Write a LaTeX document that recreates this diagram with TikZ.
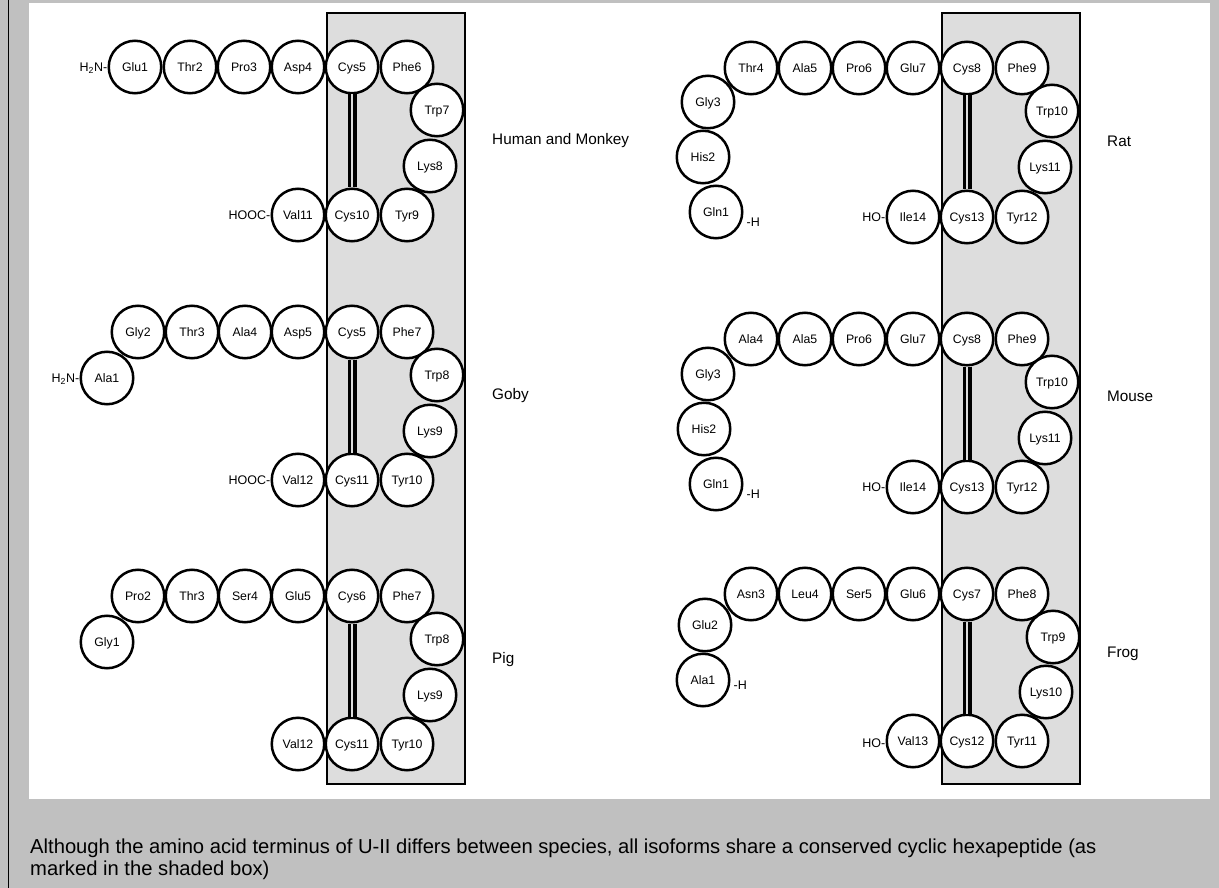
\documentclass[tikz,border=0pt]{standalone}
\usepackage{fontspec}
\setmainfont{Liberation Sans}
\definecolor{bggray}{HTML}{C0C0C0}
\definecolor{boxgray}{HTML}{DDDDDD}
\begin{document}
\begin{tikzpicture}[x=1pt,y=-1pt,
  res/.style={circle,draw=black,line width=2.5pt,fill=white,minimum size=52.5pt,inner sep=0pt,
    text height=8.8pt,text depth=0pt,font=\fontsize{12.3}{14}\selectfont},
  term/.style={inner sep=0pt,text height=8.8pt,text depth=0pt,font=\fontsize{12.5}{14}\selectfont},
  species/.style={anchor=west,inner sep=0pt,font=\fontsize{15.3}{18}\selectfont},
  captxt/.style={anchor=base west,inner sep=0pt,font=\fontsize{20.2}{22}\selectfont},
  shade/.style={draw=black,line width=2.5pt,fill=boxgray},
  ssbond/.style={line width=3.5pt,double=boxgray,double distance=2pt}]
\useasboundingbox (0,0) rectangle (1219,888);
\fill[bggray] (0,0) rectangle (1219,888);
\fill[white] (29,3) rectangle (1210,799);
\draw[line width=1.5pt] (8.5,0) -- (8.5,888);
% shaded boxes
\draw[shade] (327,13) rectangle (465,784);
\draw[shade] (942,13) rectangle (1080,784);

% ---------- Human and Monkey ----------
\node[res] (h1) at (135,67) {Glu1};
\node[res] (h2) at (190,67) {Thr2};
\node[res] (h3) at (244,67) {Pro3};
\node[res] (h4) at (298,67) {Asp4};
\node[res] (h5) at (352,67) {Cys5};
\node[res] (h6) at (407,67) {Phe6};
\node[res] (h7) at (437,110) {Trp7};
\node[res] (h8) at (430,166) {Lys8};
\node[res] (h9) at (407,215) {Tyr9};
\node[res] (h10) at (352,215) {Cys10};
\node[res] (h11) at (298,215) {Val11};
\draw[ssbond] (h5.south) -- (h10.north);
\node[term,anchor=east] (hN) at (h1.west) {H\textsubscript{2}N-};
\node[term,anchor=east] (hC) at (h11.west) {HOOC-};
\node[species] (hL) at (492,141) {Human and Monkey};

% ---------- Goby ----------
\node[res] (g1) at (107,378) {Ala1};
\node[res] (g2) at (138,332) {Gly2};
\node[res] (g3) at (192,332) {Thr3};
\node[res] (g4) at (245,332) {Ala4};
\node[res] (g5) at (298,332) {Asp5};
\node[res] (g6) at (352,332) {Cys5};
\node[res] (g7) at (407,332) {Phe7};
\node[res] (g8) at (437,375) {Trp8};
\node[res] (g9) at (430,431) {Lys9};
\node[res] (g10) at (407,480) {Tyr10};
\node[res] (g11) at (352,480) {Cys11};
\node[res] (g12) at (298,480) {Val12};
\draw[ssbond] (g6.south) -- (g11.north);
\node[term,anchor=east] (gN) at (g1.west) {H\textsubscript{2}N-};
\node[term,anchor=east] (gC) at (g12.west) {HOOC-};
\node[species] (gL) at (492,396) {Goby};

% ---------- Pig ----------
\node[res] (p1) at (107,642) {Gly1};
\node[res] (p2) at (138,596) {Pro2};
\node[res] (p3) at (192,596) {Thr3};
\node[res] (p4) at (245,596) {Ser4};
\node[res] (p5) at (298,596) {Glu5};
\node[res] (p6) at (352,596) {Cys6};
\node[res] (p7) at (407,596) {Phe7};
\node[res] (p8) at (437,639) {Trp8};
\node[res] (p9) at (430,695) {Lys9};
\node[res] (p10) at (407,744) {Tyr10};
\node[res] (p11) at (352,744) {Cys11};
\node[res] (p12) at (298,744) {Val12};
\draw[ssbond] (p6.south) -- (p11.north);
\node[species] (pL) at (492,660) {Pig};

% ---------- Rat ----------
\node[res] (r1) at (716,212) {Gln1};
\node[res] (r2) at (703,157) {His2};
\node[res] (r3) at (708,102) {Gly3};
\node[res] (r4) at (751,68) {Thr4};
\node[res] (r5) at (805,68) {Ala5};
\node[res] (r6) at (859,68) {Pro6};
\node[res] (r7) at (913,68) {Glu7};
\node[res] (r8) at (967,68) {Cys8};
\node[res] (r9) at (1022,68) {Phe9};
\node[res] (r10) at (1052,111) {Trp10};
\node[res] (r11) at (1045,167) {Lys11};
\node[res] (r12) at (1022,217) {Tyr12};
\node[res] (r13) at (967,217) {Cys13};
\node[res] (r14) at (913,217) {Ile14};
\draw[ssbond] (r8.south) -- (r13.north);
\node[term,anchor=west] (rN) at ([xshift=3pt,yshift=-10pt]r1.east) {-H};
\node[term,anchor=east] (rC) at (r14.west) {HO-};
\node[species] (rL) at (1107,141) {Rat};

% ---------- Mouse ----------
\node[res] (m1) at (716,484) {Gln1};
\node[res] (m2) at (704,429) {His2};
\node[res] (m3) at (708,374) {Gly3};
\node[res] (m4) at (751,339) {Ala4};
\node[res] (m5) at (805,339) {Ala5};
\node[res] (m6) at (859,339) {Pro6};
\node[res] (m7) at (913,339) {Glu7};
\node[res] (m8) at (967,339) {Cys8};
\node[res] (m9) at (1022,339) {Phe9};
\node[res] (m10) at (1052,382) {Trp10};
\node[res] (m11) at (1045,438) {Lys11};
\node[res] (m12) at (1022,487) {Tyr12};
\node[res] (m13) at (967,487) {Cys13};
\node[res] (m14) at (913,487) {Ile14};
\draw[ssbond] (m8.south) -- (m13.north);
\node[term,anchor=west] (mN) at ([xshift=3pt,yshift=-10pt]m1.east) {-H};
\node[term,anchor=east] (mC) at (m14.west) {HO-};
\node[species] (mL) at (1107,396) {Mouse};

% ---------- Frog ----------
\node[res] (f1) at (703,680) {Ala1};
\node[res] (f2) at (705,625) {Glu2};
\node[res] (f3) at (751,594) {Asn3};
\node[res] (f4) at (805,594) {Leu4};
\node[res] (f5) at (859,594) {Ser5};
\node[res] (f6) at (913,594) {Glu6};
\node[res] (f7) at (967,594) {Cys7};
\node[res] (f8) at (1022,594) {Phe8};
\node[res] (f9) at (1053,637) {Trp9};
\node[res] (f10) at (1046,692) {Lys10};
\node[res] (f11) at (1022,741) {Tyr11};
\node[res] (f12) at (967,741) {Cys12};
\node[res] (f13) at (913,741) {Val13};
\draw[ssbond] (f7.south) -- (f12.north);
\node[term,anchor=west] (fN) at ([xshift=3pt,yshift=-5pt]f1.east) {-H};
\node[term,anchor=east] (fC) at ([yshift=-2pt]f13.west) {HO-};
\node[species] (fL) at (1107,654) {Frog};

% ---------- caption ----------
\node[captxt] (cap1) at (30,853) {Although the amino acid terminus of U-II differs between species, all isoforms share a conserved cyclic hexapeptide (as};
\node[captxt] (cap2) at (30,875) {marked in the shaded box)};
\end{tikzpicture}
\end{document}
